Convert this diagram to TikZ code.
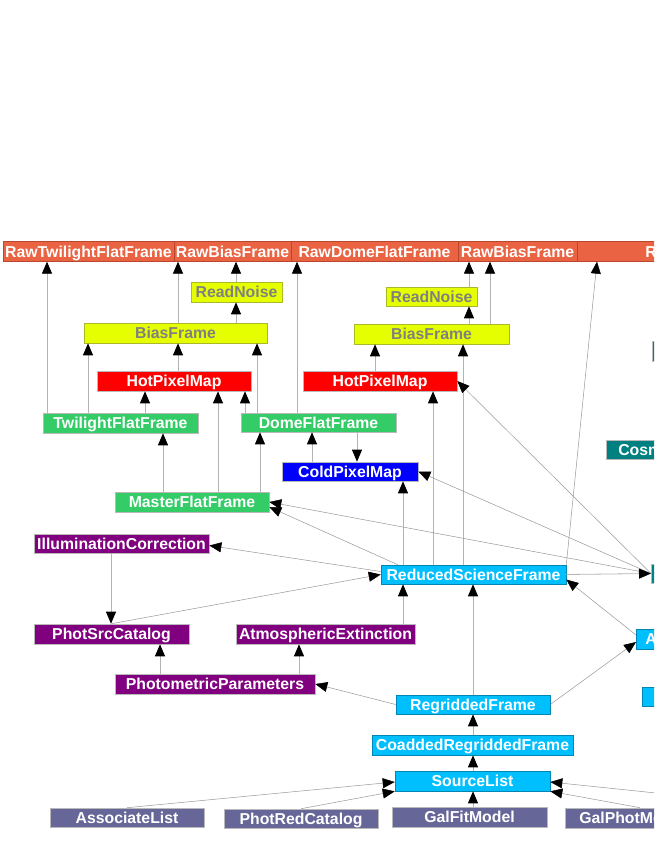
\documentclass[tikz,border=0pt]{standalone}
\usepackage{fontspec}
\setmainfont{Liberation Sans}
\usetikzlibrary{arrows.meta}
\definecolor{corange}{RGB}{234,99,66}
\definecolor{corangeD}{RGB}{185,70,45}
\definecolor{cyellow}{RGB}{229,255,0}
\definecolor{cyellowD}{RGB}{170,185,40}
\definecolor{cytext}{RGB}{128,128,128}
\definecolor{cred}{RGB}{255,0,0}
\definecolor{cgreen}{RGB}{51,204,102}
\definecolor{cblue}{RGB}{0,0,255}
\definecolor{cpurple}{RGB}{128,0,128}
\definecolor{ccyan}{RGB}{0,191,255}
\definecolor{cteal}{RGB}{0,128,128}
\definecolor{cslate}{RGB}{102,102,153}
\definecolor{cline}{RGB}{180,180,180}
\definecolor{cdiag}{RGB}{150,150,150}
\newcommand\vup[3]{\draw[e] (#1,0 |- #2.north) -- (#1,0 |- #3.south);}
\newcommand\vdn[3]{\draw[e] (#1,0 |- #2.south) -- (#1,0 |- #3.north);}
\begin{document}
\begin{tikzpicture}[x=1pt,y=-1pt,
  box/.style={rectangle, inner sep=0pt, text height=12.5pt, text depth=1.5pt,
    font=\bfseries\fontsize{15.8}{18}\selectfont, text=white, draw=gray!55, line width=0.6pt},
  topb/.style={box, fill=corange, draw=corangeD, line width=0.8pt, minimum height=19.5pt},
  yel/.style={box, fill=cyellow, draw=cyellowD, text=cytext},
  redb/.style={box, fill=cred},
  grn/.style={box, fill=cgreen},
  blu/.style={box, fill=cblue},
  pur/.style={box, fill=cpurple},
  cya/.style={box, fill=ccyan, draw=ccyan!70!black},
  tea/.style={box, fill=cteal},
  sla/.style={box, fill=cslate},
  part/.style={anchor=west, text width=150pt, align=left},
  e/.style={draw=cline, line width=0.8pt, -{Triangle[length=12pt,width=10pt,color=black]}},
  d/.style={e, draw=cdiag, line width=0.5pt}
]
\useasboundingbox (0,0) rectangle (654,846);
\clip (0,0) rectangle (654,846);

% top row
\node[topb, minimum width=171pt] (rtwi) at (88.5,251.5) {RawTwilightFlatFrame};
\node[topb, minimum width=117pt] (rbias1) at (232.5,251.5) {RawBiasFrame};
\node[topb, minimum width=167pt] (rdome) at (374.5,251.5) {RawDomeFlatFrame};
\node[topb, minimum width=119pt] (rbias2) at (517.5,251.5) {RawBiasFrame};
\node[topb, part, inner xsep=68pt] (rsci) at (577,251.5) {R};

% yellow
\node[yel, minimum width=91pt, minimum height=20pt] (rn1) at (236.5,292) {ReadNoise};
\node[yel, minimum width=91pt, minimum height=19pt] (rn2) at (431.5,296.5) {ReadNoise};
\node[yel, minimum width=183pt, minimum height=20pt] (bf1) at (175.5,333) {BiasFrame};
\node[yel, minimum width=155pt, minimum height=20pt] (bf2) at (431.5,334) {BiasFrame};

% red
\node[redb, minimum width=154pt, minimum height=20pt] (hpm1) at (174,381) {HotPixelMap};
\node[redb, minimum width=154pt, minimum height=20pt] (hpm2) at (380,381) {HotPixelMap};

% green
\node[grn, minimum width=155pt, minimum height=20pt] (tff) at (120.5,423) {TwilightFlatFrame};
\node[grn, minimum width=155pt, minimum height=19pt] (dff) at (318.5,422.5) {DomeFlatFrame};
\node[grn, minimum width=154pt, minimum height=20pt] (mff) at (192,502) {MasterFlatFrame};

% blue
\node[blu, minimum width=136pt, minimum height=19pt] (cpm) at (350,471.5) {ColdPixelMap};

% teal
\node[tea, part, minimum height=19pt, inner xsep=12pt] (cosm) at (606,449.5) {Cosm};
\node[tea, anchor=west, minimum width=150pt, minimum height=19pt] (teal1) at (651,573.5) {};
\node[tea, anchor=west, minimum width=150pt, minimum height=20pt] (teal0) at (652,351) {};

% purple
\node[pur, minimum width=175pt, minimum height=19pt] (ic) at (121.5,543.5) {IlluminationCorrection};
\node[pur, minimum width=155pt, minimum height=20pt] (psc) at (111.5,634) {PhotSrcCatalog};
\node[pur, minimum width=179pt, minimum height=20pt] (ae) at (325.5,634) {AtmosphericExtinction};
\node[pur, minimum width=200pt, minimum height=20pt] (pp) at (215,684) {PhotometricParameters};

% cyan
\node[cya, minimum width=185pt, minimum height=19pt] (rsf) at (473.5,574.5) {ReducedScienceFrame};
\node[cya, minimum width=154pt, minimum height=19pt] (rf) at (473,704.5) {RegriddedFrame};
\node[cya, minimum width=201pt, minimum height=20pt] (crf) at (472.5,745) {CoaddedRegriddedFrame};
\node[cya, minimum width=155pt, minimum height=20pt] (sl) at (472.5,781) {SourceList};
\node[cya, part, minimum height=20pt, inner xsep=9pt] (anode) at (636,639) {A};
\node[cya, anchor=west, minimum width=150pt, minimum height=19pt] (cyan2) at (642,696.5) {};

% slate
\node[sla, minimum width=154pt, minimum height=19pt] (al) at (127,817.5) {AssociateList};
\node[sla, minimum width=154pt, minimum height=19pt] (prc) at (301,818.5) {PhotRedCatalog};
\node[sla, minimum width=155pt, minimum height=20pt] (gfm) at (469.5,817) {GalFitModel};
\node[sla, part, minimum height=20pt, inner xsep=14pt] (gpm) at (565,818) {GalPhotModel};

% vertical edges
\vup{47}{tff}{rtwi}
\vup{178}{bf1}{rbias1}
\vup{236}{rn1}{rbias1}
\vup{236}{bf1}{rn1}
\vup{88}{tff}{bf1}
\vup{178}{hpm1}{bf1}
\vup{257}{dff}{bf1}
\vup{145}{tff}{hpm1}
\vup{218}{mff}{hpm1}
\vup{245}{dff}{hpm1}
\vup{297}{dff}{rdome}
\vup{163}{mff}{tff}
\vup{260}{mff}{dff}
\vup{312}{cpm}{dff}
\vdn{357}{dff}{cpm}
\vup{469}{rn2}{rbias2}
\vup{490}{bf2}{rbias2}
\vup{469}{bf2}{rn2}
\vup{375}{hpm2}{bf2}
\vup{463}{rsf}{bf2}
\vup{433}{rsf}{hpm2}
\vup{403}{rsf}{cpm}
\vup{403}{ae}{rsf}
\vup{473}{rf}{rsf}
\vdn{111}{ic}{psc}
\vup{160}{pp}{psc}
\vup{299}{pp}{ae}
\vup{473}{crf}{rf}
\vup{473}{sl}{crf}
\vup{473}{gfm}{sl}

% diagonal edges
\draw[d] (teal1.west) -- (hpm2.east);
\draw[d] (teal1.west) -- (cpm.east);
\draw[d] (teal1.west) -- (mff.east);
\draw[d] ([xshift=17pt]rsf.north west) -- ([yshift=-5pt]mff.east);
\draw[d] ([yshift=3pt]rsf.west) -- ([yshift=-2pt]ic.east);
\draw[d] (psc.north) -- (rsf.west);
\draw[d] (rsf.north east) -- (597,0 |- rsci.south);
\draw[e] (rsf.east) -- (teal1.west);
\draw[d] ([yshift=4pt]anode.west) -- ([yshift=-5pt]rsf.east);
\draw[d] (rf.east) -- ([yshift=-3pt]anode.west);
\draw[d] (rf.west) -- (pp.east);
\draw[d] (al.north) -- ([yshift=-1pt]sl.west);
\draw[d] (prc.north) -- (sl.south west);
\coordinate (offr) at (800,808);
\draw[d] (offr) -- ([yshift=-1pt]sl.east);
\draw[d] ([xshift=75pt]gpm.north west) -- (sl.south east);
\end{tikzpicture}
\end{document}
